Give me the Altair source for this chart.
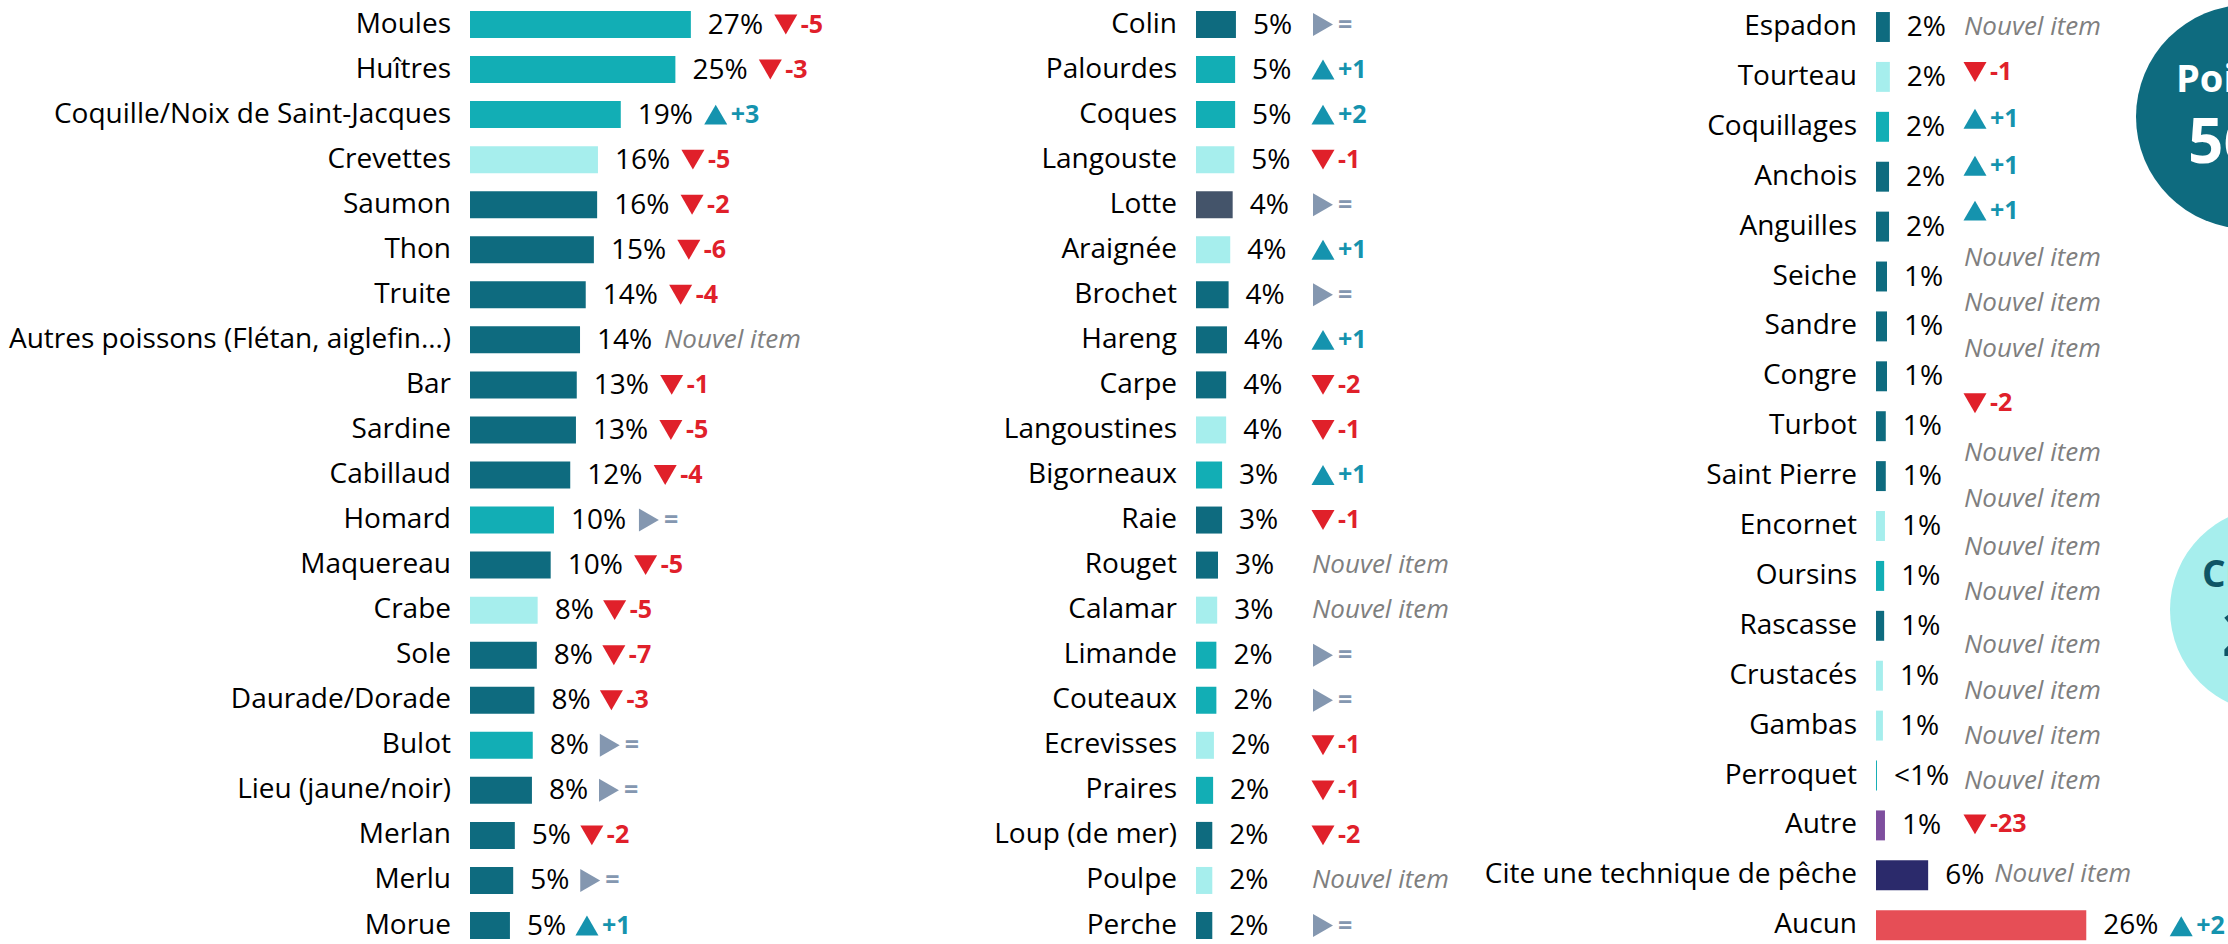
import altair as alt
import pandas as pd

# ---------------- data ----------------
cat1 = ["Moules", "Huîtres", "Coquille/Noix de Saint-Jacques", "Crevettes", "Saumon", "Thon", "Truite",
        "Autres poissons (Flétan, aiglefin…)", "Bar", "Sardine", "Cabillaud", "Homard", "Maquereau", "Crabe",
        "Sole", "Daurade/Dorade", "Bulot", "Lieu (jaune/noir)", "Merlan", "Merlu", "Morue"]
val1 = [27.1, 25.2, 18.5, 15.7, 15.6, 15.2, 14.2, 13.5, 13.1, 13.0, 12.3, 10.3, 9.9, 8.3, 8.2, 7.9, 7.7, 7.6, 5.5, 5.3, 4.9]
lab1 = ["27%", "25%", "19%", "16%", "16%", "15%", "14%", "14%", "13%", "13%", "12%", "10%", "10%", "8%",
        "8%", "8%", "8%", "8%", "5%", "5%", "5%"]
grp1 = ["C", "C", "C", "K", "P", "P", "P", "P", "P", "P", "P", "C", "P", "K", "P", "P", "C", "P", "P", "P", "P"]
dlt1 = ["-5", "-3", "+3", "-5", "-2", "-6", "-4", "new", "-1", "-5", "-4", "=", "-5", "-5", "-7", "-3", "=", "=",
        "-2", "=", "+1"]

cat2 = ["Colin", "Palourdes", "Coques", "Langouste", "Lotte", "Araignée", "Brochet", "Hareng", "Carpe",
        "Langoustines", "Bigorneaux", "Raie", "Rouget", "Calamar", "Limande", "Couteaux", "Ecrevisses", "Praires",
        "Loup (de mer)", "Poulpe", "Perche"]
val2 = [4.9, 4.8, 4.8, 4.7, 4.5, 4.2, 4.0, 3.8, 3.7, 3.7, 3.2, 3.2, 2.7, 2.6, 2.5, 2.5, 2.2, 2.1, 2.0, 2.0, 2.0]
lab2 = ["5%", "5%", "5%", "5%", "4%", "4%", "4%", "4%", "4%", "4%", "3%", "3%", "3%", "3%",
        "2%", "2%", "2%", "2%", "2%", "2%", "2%"]
grp2 = ["P", "C", "C", "K", "L", "K", "P", "P", "P", "K", "C", "P", "P", "K", "C", "C", "K", "C", "P", "K", "P"]
dlt2 = ["=", "+1", "+2", "-1", "=", "+1", "=", "+1", "-2", "-1", "+1", "-1", "new", "new", "=", "=", "-1", "-1",
        "-2", "new", "="]

cat3 = ["Espadon", "Tourteau", "Coquillages", "Anchois", "Anguilles", "Seiche", "Sandre", "Congre", "Turbot",
        "Saint Pierre", "Encornet", "Oursins", "Rascasse", "Crustacés", "Gambas", "Perroquet", "Autre",
        "Cite une technique de pêche", "Aucun"]
val3 = [1.7, 1.7, 1.6, 1.6, 1.6, 1.35, 1.35, 1.35, 1.2, 1.2, 1.1, 1.0, 1.0, 0.85, 0.85, 0.12, 1.1, 6.4, 25.8]
lab3 = ["2%", "2%", "2%", "2%", "2%", "1%", "1%", "1%", "1%", "1%", "1%", "1%", "1%", "1%", "1%",
        "<1%", "1%", "6%", "26%"]
grp3 = ["P", "K", "C", "P", "P", "P", "P", "P", "P", "P", "K", "C", "P", "K", "K", "C", "A", "T", "N"]
# evolution annotations of the third column (their own slots)
ann3 = ["new", "-1", "+1", "+1", "+1", "new", "new", "new", "-2", "new", "new", "new", "new", "new", "new",
        "new", "new", "-23", "new", "+2"]
slot3 = [0.0, 0.9, 1.84, 2.78, 3.68, 4.62, 5.54, 6.46, 7.54, 8.54, 9.46, 10.42, 11.32, 12.38, 13.3, 14.2,
         15.12, 15.98, 16.98, 18.02]

circ_name = ["Poissons", "Crustacés"]
circ_pct = ["56%", "25%"]

# ---------------- style ----------------
W, H = 2228, 944
PX = 8.15  # pixels per percentage point
FONT = "Open Sans"
GRP_DOMAIN = ["P", "C", "K", "L", "A", "T", "N"]
GRP_RANGE = ["#0E6B7F", "#12AEB5", "#A6EEED", "#44546A", "#7E4E9E", "#2B2A6B", "#E64E56"]
K_DOMAIN = ["down", "up", "eq", "new"]
K_RANGE = ["#E0202A", "#1593AE", "#8497B0", "#7F7F7F"]


def rows_df(cats, vals, labs, grps):
    return pd.DataFrame({"idx": list(range(len(cats))), "cat": cats, "v": vals, "lab": labs, "grp": grps})


def ann_df(slots, vals_for, codes, colmin):
    kinds, txts = [], []
    for c in codes:
        if c == "new":
            kinds.append("new"); txts.append("Nouvel item")
        elif c == "=":
            kinds.append("eq"); txts.append("=")
        elif c.startswith("-"):
            kinds.append("down"); txts.append(c)
        else:
            kinds.append("up"); txts.append(c)
    pos = [max(colmin, v + (10.3 if v >= 9.5 else 8.1)) for v in vals_for]
    return pd.DataFrame({"slot": slots, "pos": pos, "kind": kinds, "txt": txts})


def column(rows, ann, x0, top, step, half, extra=()):
    """x0: pixel where the bars of this column start."""
    d0 = -top / step
    d1 = d0 + H / step
    xs = alt.Scale(domain=[-x0 / PX, (W - x0) / PX], nice=False, zero=False)
    ys = alt.Scale(domain=[d0, d1], nice=False, zero=False, reverse=True)
    base = alt.Chart(rows)
    bars = base.transform_calculate(
        y0=f"datum.idx - {half}", y1=f"datum.idx + {half}"
    ).mark_bar().encode(
        x=alt.X("v:Q", scale=xs, axis=None), x2=alt.datum(0),
        y=alt.Y("y0:Q", scale=ys, axis=None), y2="y1:Q",
        color=alt.Color("grp:N", scale=alt.Scale(domain=GRP_DOMAIN, range=GRP_RANGE), legend=None),
    )
    labels = base.mark_text(align="right", baseline="middle", dx=-19, fontSize=28, color="#000000").encode(
        x=alt.X(datum=0, scale=xs, axis=None), y=alt.Y("idx:Q", scale=ys, axis=None), text="cat:N")
    pct = base.mark_text(align="left", baseline="middle", dx=17, dy=1, fontSize=28, color="#000000").encode(
        x=alt.X("v:Q", scale=xs, axis=None), y=alt.Y("idx:Q", scale=ys, axis=None), text="lab:N")
    a = alt.Chart(ann)
    kcol = alt.Color("kind:N", scale=alt.Scale(domain=K_DOMAIN, range=K_RANGE), legend=None)
    tri = a.transform_filter("datum.kind != 'new'").mark_point(
        filled=True, opacity=1, size=530, xOffset=11, strokeWidth=0).encode(
        x=alt.X("pos:Q", scale=xs, axis=None), y=alt.Y("slot:Q", scale=ys, axis=None),
        shape=alt.Shape("kind:N", scale=alt.Scale(domain=["down", "up", "eq"],
                                                  range=["triangle-down", "triangle-up", "triangle-right"]),
                        legend=None),
        color=kcol)
    num = a.transform_filter("datum.kind != 'new'").mark_text(
        align="left", baseline="middle", dx=26, fontSize=25, fontWeight="bold").encode(
        x=alt.X("pos:Q", scale=xs, axis=None), y=alt.Y("slot:Q", scale=ys, axis=None), text="txt:N", color=kcol)
    new = a.transform_filter("datum.kind == 'new'").mark_text(
        align="left", baseline="middle", fontSize=26, fontStyle="italic", color="#7F7F7F").encode(
        x=alt.X("pos:Q", scale=xs, axis=None), y=alt.Y("slot:Q", scale=ys, axis=None), text="txt:N")
    layers = [bars, labels, pct, tri, num, new] + [e(xs, ys) for e in extra]
    return alt.layer(*layers).resolve_scale(color="independent", shape="independent")


# circles (decorative callouts cut by the right edge)
CIRCLES = [
    dict(cx=372 / PX, cy=1.8, d=224, fill="#0E6B7F", tc="#FFFFFF", t_dx=-72, t_dy=-36, t_fs=38,
         n_dx=-60, n_dy=27, n_fs=62),
    dict(cx=397 / PX, cy=11.68, d=206, fill="#A6EEED", tc="#0E5566", t_dx=-71, t_dy=-34, t_fs=37,
         n_dx=-51, n_dy=28, n_fs=60),
]


def circle_layer(i):
    c = CIRCLES[i]

    def make(xs, ys):
        src = alt.Chart(pd.DataFrame({"name": [circ_name[i]], "pct": [circ_pct[i]]}))
        enc = dict(x=alt.X(datum=c["cx"], scale=xs, axis=None), y=alt.Y(datum=c["cy"], scale=ys, axis=None))
        disc = src.mark_circle(size=c["d"] ** 2, color=c["fill"], opacity=1, clip=True).encode(**enc)
        t1 = src.mark_text(align="left", baseline="middle", dx=c["t_dx"], dy=c["t_dy"], fontSize=c["t_fs"],
                           fontWeight="bold", color=c["tc"], clip=True).encode(text="name:N", **enc)
        t2 = src.mark_text(align="left", baseline="middle", dx=c["n_dx"], dy=c["n_dy"], fontSize=c["n_fs"],
                           fontWeight="bold", color=c["tc"], clip=True).encode(text="pct:N", **enc)
        return alt.layer(disc, t1, t2)
    return make


r1 = rows_df(cat1, val1, lab1, grp1)
r2 = rows_df(cat2, val2, lab2, grp2)
r3 = rows_df(cat3, val3, lab3, grp3)
a1 = ann_df(list(range(len(cat1))), val1, dlt1, 0)
a2 = ann_df(list(range(len(cat2))), val2, dlt2, 116 / PX)
near3 = [val3[min(len(val3) - 1, int(round(s)))] for s in slot3]
a3 = ann_df(slot3, near3, ann3, 88 / PX)

c1 = column(r1, a1, 470, 24.5, 45.05, 0.2997)
c2 = column(r2, a2, 1196, 24.5, 45.05, 0.2997)
c3 = column(r3, a3, 1876, 27.0, 49.9, 0.30, extra=(circle_layer(0), circle_layer(1)))

chart = alt.layer(c1, c2, c3).resolve_scale(
    x="independent", y="independent", color="independent", shape="independent"
).properties(
    width=W, height=H, padding=0, autosize=alt.AutoSizeParams(type="none")
).configure(font=FONT, background="white").configure_view(strokeWidth=0)

chart.save("out.html", embed_options={"renderer": "svg", "actions": False})
